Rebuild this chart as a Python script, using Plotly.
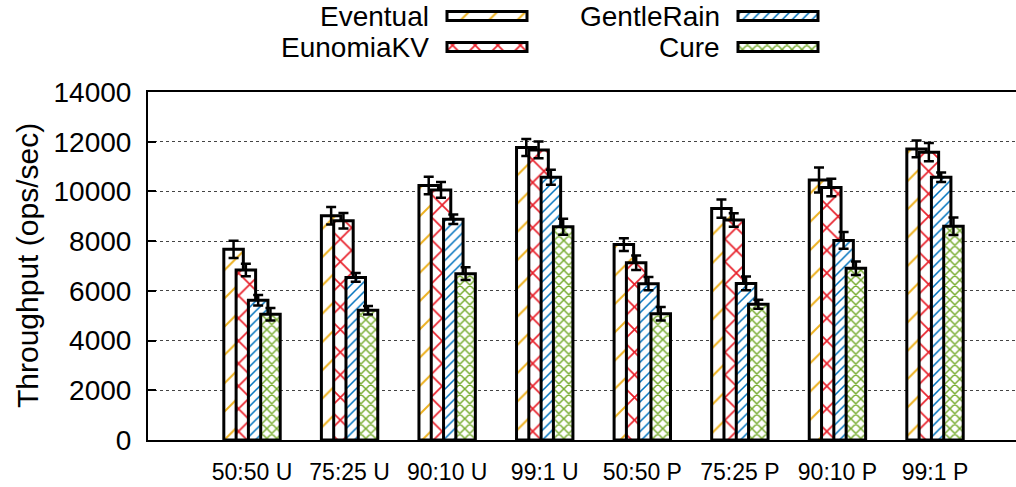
import plotly.graph_objects as go

# ---------------- data ----------------
categories = ["50:50 U", "75:25 U", "90:10 U", "99:1 U", "50:50 P", "75:25 P", "90:10 P", "99:1 P"]
series_names = ["Eventual", "EunomiaKV", "GentleRain", "Cure"]

eventual = [7670, 9020, 10240, 11770, 7860, 9310, 10460, 11710]
eventual_err = [350, 355, 355, 340, 260, 370, 500, 340]
eunomia = [6840, 8820, 10060, 11670, 7130, 8850, 10160, 11580]
eunomia_err = [250, 315, 315, 335, 295, 275, 350, 370]
gentlerain = [5620, 6540, 8880, 10570, 6290, 6300, 8030, 10570]
gentlerain_err = [210, 175, 195, 300, 270, 275, 340, 195]
cure = [5060, 5220, 6690, 8580, 5080, 5460, 6910, 8600]
cure_err = [250, 175, 255, 320, 270, 180, 275, 350]

y_tick_values = [0, 2000, 4000, 6000, 8000, 10000, 12000, 14000]
y_tick_labels = ["0", "2000", "4000", "6000", "8000", "10000", "12000", "14000"]

# ---------------- styles ----------------
W, H = 1016, 487
values = [eventual, eunomia, gentlerain, cure]
errors = [eventual_err, eunomia_err, gentlerain_err, cure_err]
colors = ["#EDB120", "#E8202A", "#0072BD", "#77AC30"]
shapes = ["/", "x", "/", "x"]
psizes = [20, 16, 7, 7]
psolid = [0.1, 0.2, 0.22, 0.38]

bar_w = 0.20
step = 0.126

fig = go.Figure()
for i, name in enumerate(series_names):
    center = (i - 1.5) * step
    fig.add_trace(go.Bar(
        x=categories, y=values[i], name=name, showlegend=False,
        width=bar_w, offset=center - bar_w / 2,
        marker=dict(color="white",
                    line=dict(color="black", width=3),
                    pattern=dict(shape=shapes[i], fgcolor=colors[i], bgcolor="white",
                                 size=psizes[i], solidity=psolid[i], fillmode="replace")),
        error_y=dict(type="data", array=errors[i], color="black", thickness=2.5, width=5),
        xaxis="x", yaxis="y",
    ))

# custom legend (text to the left of a wide patterned swatch)
leg_x0 = [447, 447, 738, 738]
leg_y = [16, 47, 16, 47]
leg_len = 80
for i, name in enumerate(series_names):
    fig.add_trace(go.Bar(
        orientation="h", y=[leg_y[i]], x=[leg_len], base=[leg_x0[i]], width=9,
        showlegend=False, hoverinfo="skip",
        marker=dict(color="white",
                    line=dict(color="black", width=3),
                    pattern=dict(shape=shapes[i], fgcolor=colors[i], bgcolor="white",
                                 size=psizes[i], solidity=psolid[i], fillmode="replace")),
        xaxis="x2", yaxis="y2",
    ))
    fig.add_annotation(xref="x2", yref="y2", x=leg_x0[i] - 17, y=leg_y[i],
                       text=name, showarrow=False, xanchor="right", yanchor="middle",
                       borderpad=0,
                       font=dict(family="Liberation Sans, Arial", size=28, color="black"))

fig.add_annotation(xref="paper", yref="paper", x=27 / W, y=1 - 266 / H,
                   text="Throughput (ops/sec)", textangle=-90, showarrow=False,
                   xanchor="center", yanchor="middle",
                   font=dict(family="Liberation Sans, Arial", size=30, color="black"))

fig.update_layout(
    width=W, height=H,
    margin=dict(l=0, r=0, t=0, b=0, pad=0),
    paper_bgcolor="white", plot_bgcolor="white",
    barmode="overlay",
    xaxis=dict(domain=[148 / W, 1], range=[-1.066, 7.83], type="category",
               showline=True, linecolor="black", linewidth=2, mirror=True,
               ticks="", showgrid=False, zeroline=False, automargin=False, tickangle=0,
               tickfont=dict(family="Liberation Sans, Arial", size=23, color="black"),
               ticklabelstandoff=10),
    yaxis=dict(domain=[(H - 440) / H, (H - 92) / H], range=[0, 14000],
               tickvals=y_tick_values, ticktext=y_tick_labels,
               ticks="inside", ticklen=8, tickwidth=2, tickcolor="black",
               showline=True, linecolor="black", linewidth=2, mirror=False,
               showgrid=True, gridcolor="#444444", gridwidth=1, griddash="dot",
               zeroline=False, automargin=False,
               tickfont=dict(family="Liberation Sans, Arial", size=28, color="black"),
               ticklabelstandoff=9),
    xaxis2=dict(domain=[0, 1], range=[0, W], visible=False, anchor="y2", fixedrange=True),
    yaxis2=dict(domain=[(H - 80) / H, 1], range=[80, 0], visible=False, anchor="x2", fixedrange=True),
)

fig.write_html("out.html")
